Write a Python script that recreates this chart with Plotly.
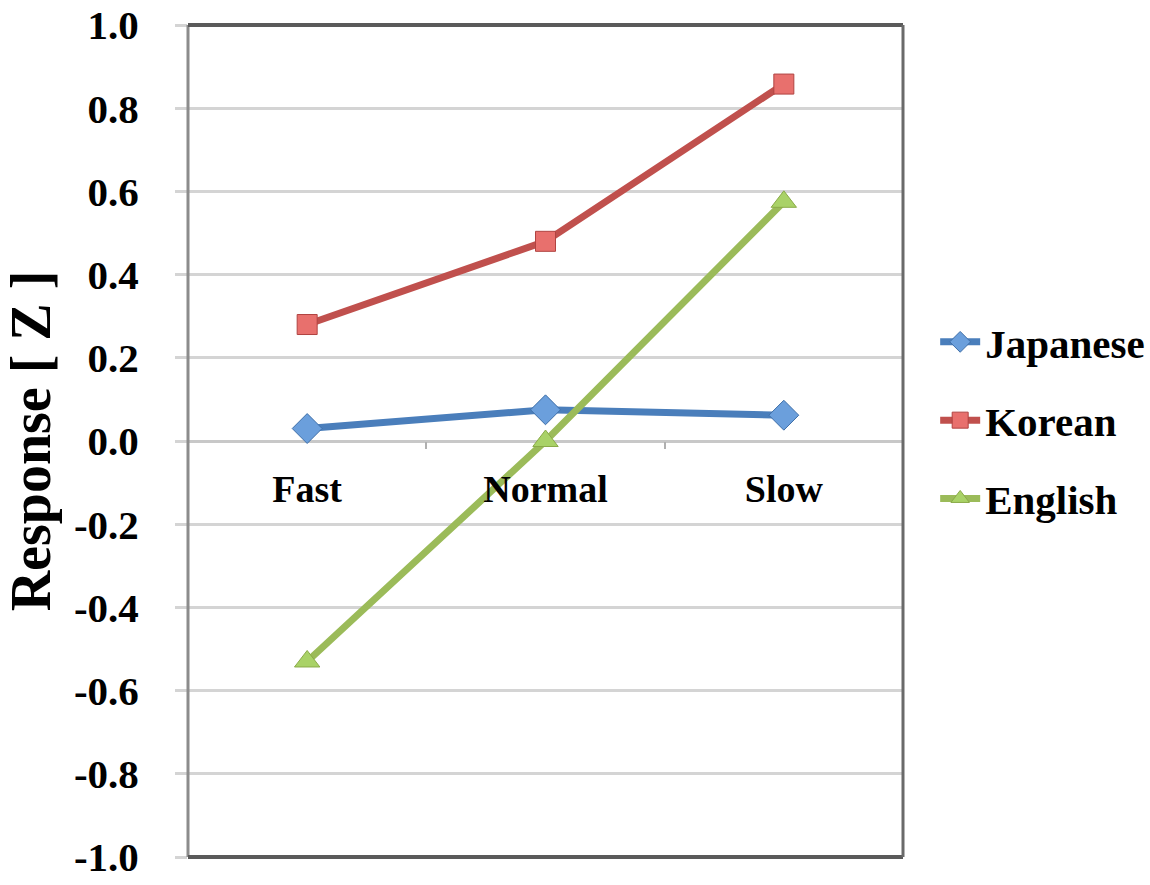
import plotly.graph_objects as go

# Speech-rate conditions and mean z-scored responses per language group
categories = ["Fast", "Normal", "Slow"]
japanese = [0.03, 0.075, 0.062]
korean = [0.28, 0.48, 0.858]
english = [-0.53, 0.0, 0.575]
y_ticks = [-1.0, -0.8, -0.6, -0.4, -0.2, 0.0, 0.2, 0.4, 0.6, 0.8, 1.0]

FONT = "Liberation Serif, Times New Roman, serif"

series = [
    ("Japanese", japanese, "#4a7ebb", "#6b9fdc", "#3f6fa8", "diamond", 23),
    ("Korean", korean, "#c0504d", "#e8706d", "#b04340", "square", 20),
    ("English", english, "#9bbb59", "#a9d267", "#8aaa48", "triangle-up", 22),
]

fig = go.Figure()
for name, vals, line_c, fill_c, edge_c, sym, size in series:
    fig.add_trace(go.Scatter(
        x=categories, y=vals, name=name, legendgroup=name, mode="lines+markers",
        line=dict(color=line_c, width=7),
        marker=dict(symbol=sym, size=size, color=fill_c,
                    line=dict(color=edge_c, width=1)),
    ))

fig.update_layout(
    width=1150, height=885,
    margin=dict(l=188, r=247, t=25, b=28, autoexpand=False),
    paper_bgcolor="white", plot_bgcolor="white",
    font=dict(family=FONT, color="black"),
    showlegend=True,
    legend=dict(
        x=1.045, y=0.525, xanchor="left", yanchor="middle",
        font=dict(size=41, family=FONT, weight="bold"),
        tracegroupgap=22, itemwidth=40,
    ),
    xaxis=dict(
        type="category", range=[-0.5, 2.5],
        anchor="free", position=0.5, automargin=False,
        showgrid=False, showline=False, zeroline=False,
        ticks="outside", tickson="boundaries", ticklen=7,
        tickcolor="#b0b0b0", tickwidth=2,
        tickfont=dict(size=38, family=FONT, weight="bold"),
        ticklabelstandoff=22,
    ),
    yaxis=dict(
        range=[-1.0, 1.0], domain=[0, 1], automargin=False,
        tickvals=y_ticks, ticktext=[f"{v:.1f}" for v in y_ticks],
        tickfont=dict(size=41, family=FONT, weight="bold"),
        showgrid=True, gridcolor="#d4d4d4", gridwidth=3,
        zeroline=True, zerolinecolor="#c8c8c8", zerolinewidth=3,
        ticks="outside", ticklen=12, tickcolor="#d4d4d4", tickwidth=3,
        ticklabelstandoff=28,
        showline=False,
        title=dict(text="Response [ Z ]", standoff=18,
                   font=dict(size=56, family=FONT, weight="bold")),
    ),
)

# Frame around the plotting area: grey left edge, darker top/right/bottom
fig.add_shape(type="line", xref="paper", yref="paper", x0=0, x1=0, y0=0, y1=1,
              line=dict(color="#8c8c8c", width=3))
fig.add_shape(type="line", xref="paper", yref="paper", x0=0, x1=1, y0=1, y1=1,
              line=dict(color="#5a5a5a", width=4))
fig.add_shape(type="line", xref="paper", yref="paper", x0=0, x1=1, y0=0, y1=0,
              line=dict(color="#5a5a5a", width=4))
fig.add_shape(type="line", xref="paper", yref="paper", x0=1, x1=1, y0=0, y1=1,
              line=dict(color="#6a6a6a", width=3))

fig.write_html("out.html")
